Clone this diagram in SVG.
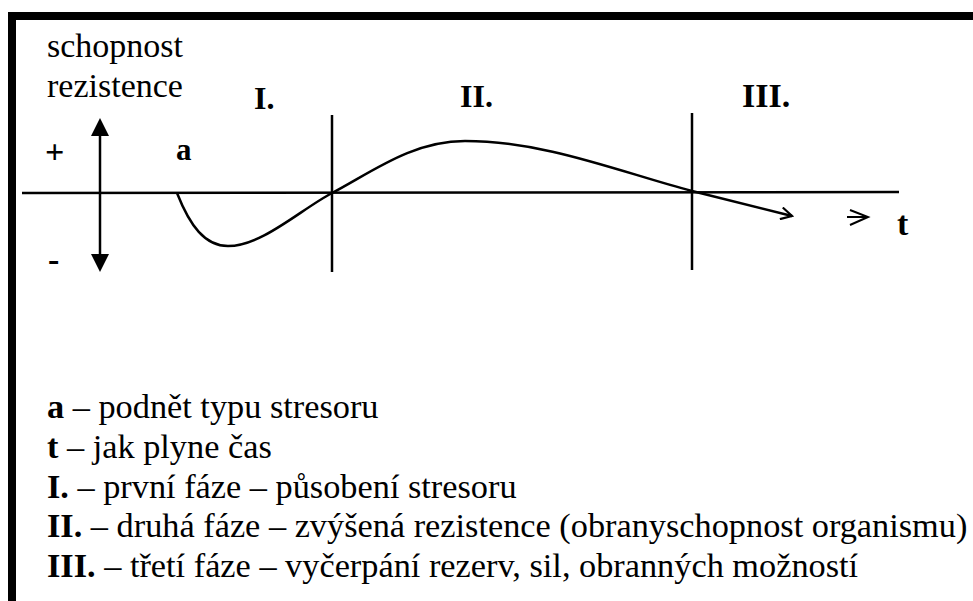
<svg xmlns="http://www.w3.org/2000/svg" width="973" height="601" viewBox="0 0 973 601">
  <style>
    text { font-family: 'Liberation Serif', 'Times New Roman', serif; fill: #000; }
    .b { font-weight: bold; }
    .ln { stroke: #000; stroke-width: 2.5; fill: none; }
  </style>
  <defs>
    <marker id="open" markerWidth="14" markerHeight="14" refX="12" refY="7" orient="auto" markerUnits="userSpaceOnUse">
      <path d="M1,1 L12,7 L1,13" fill="none" stroke="#000" stroke-width="2.2"/>
    </marker>
  </defs>
  <rect x="0" y="0" width="973" height="601" fill="#fff"/>
  <g id="frame">
    <rect x="8" y="12" width="965" height="8" fill="#000"/>
    <rect x="8" y="12" width="8" height="589" fill="#000"/>
  </g>
  <g id="ylabel">
    <text x="47" y="57" font-size="34">schopnost</text>
    <text x="47" y="97" font-size="34">rezistence</text>
  </g>
  <g id="plus"><text class="b" x="45" y="163" font-size="34">+</text></g>
  <g id="minus"><text class="b" x="48" y="271" font-size="34">-</text></g>
  <g id="label-a"><text class="b" x="176" y="160" font-size="31">a</text></g>
  <g id="phase1"><text class="b" x="254" y="109" font-size="32">I.</text></g>
  <g id="phase2"><text class="b" x="460" y="107" font-size="32">II.</text></g>
  <g id="phase3"><text class="b" x="742" y="107" font-size="34">III.</text></g>
  <g id="label-t"><text class="b" x="897" y="235" font-size="34">t</text></g>
  <g id="connectors">
    <line class="ln" x1="22" y1="193" x2="899" y2="192" stroke-width="2.2"/>
    <line class="ln" x1="100" y1="132" x2="100" y2="258"/>
    <polygon points="100,118 91,136 109,136" fill="#000"/>
    <polygon points="100,272 91,254 109,254" fill="#000"/>
    <line class="ln" x1="332" y1="115" x2="332" y2="272"/>
    <line class="ln" x1="692" y1="113" x2="692" y2="270"/>
    <path class="ln" d="M177,193 C190,226 205,246 228,246 C262,246 300,210 332,193 C372,172 412,141 465,141 C545,141 620,172 692,191 L792,216" marker-end="url(#open)"/>
    <path d="M847,217 L868,217 M850,210 L868,217 L850,225" fill="none" stroke="#000" stroke-width="2"/>
  </g>
  <g id="legend" font-size="34.3">
    <text x="47" y="418"><tspan class="b">a</tspan> – podnět typu stresoru</text>
    <text x="47" y="458"><tspan class="b">t</tspan> – jak plyne čas</text>
    <text x="47" y="498"><tspan class="b">I.</tspan> – první fáze – působení stresoru</text>
    <text x="47" y="537"><tspan class="b">II.</tspan> – druhá fáze – zvýšená rezistence (obranyschopnost organismu)</text>
    <text x="47" y="577"><tspan class="b">III.</tspan> – třetí fáze – vyčerpání rezerv, sil, obranných možností</text>
  </g>
</svg>
